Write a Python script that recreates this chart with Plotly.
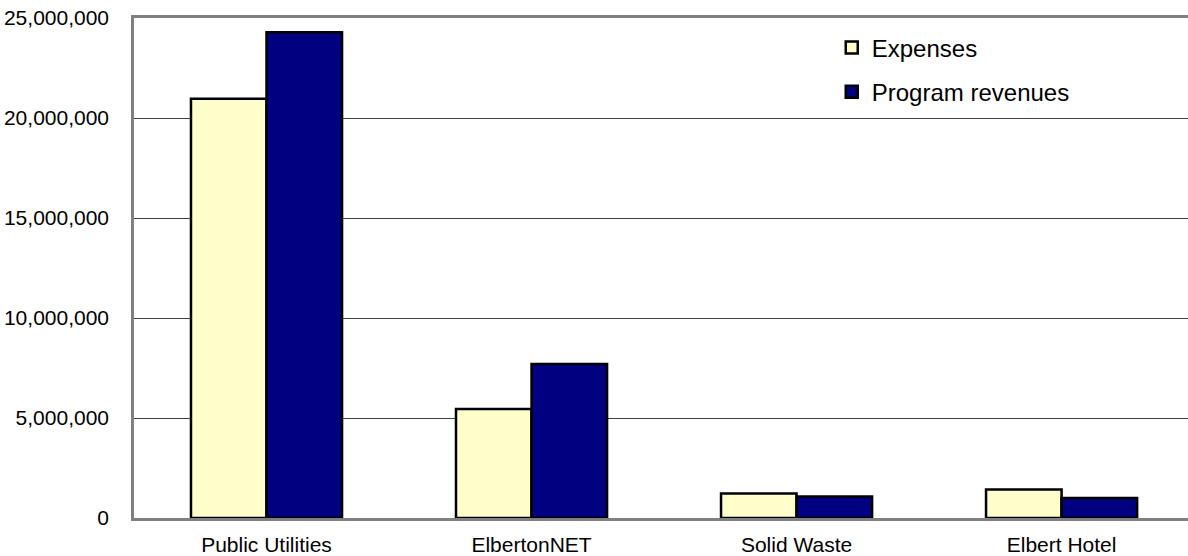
import plotly.graph_objects as go

categories = ["Public Utilities", "ElbertonNET", "Solid Waste", "Elbert Hotel"]
expenses = [20960000, 5450000, 1230000, 1430000]
program_revenues = [24290000, 7700000, 1070000, 1000000]
y_ticks = [0, 5000000, 10000000, 15000000, 20000000, 25000000]

FONT = "Arial, Liberation Sans, sans-serif"

fig = go.Figure()
fig.add_trace(go.Bar(
    x=categories, y=expenses, name="Expenses", legendgroup="a",
    marker=dict(color="#FFFFCC", line=dict(color="#000000", width=2.5)),
))
fig.add_trace(go.Bar(
    x=categories, y=program_revenues, name="Program revenues", legendgroup="b",
    marker=dict(color="#000080", line=dict(color="#000000", width=2.5)),
))

fig.update_layout(
    width=1188, height=556,
    margin=dict(l=134, r=0, t=18, b=36),
    paper_bgcolor="white", plot_bgcolor="white",
    barmode="group", bargap=0.43, bargroupgap=0,
    font=dict(family=FONT, size=21, color="#000000"),
    showlegend=True,
    legend=dict(
        x=0.662, xanchor="left", y=0.985, yanchor="top",
        font=dict(family=FONT, size=24, color="#000000"),
        bgcolor="rgba(0,0,0,0)", tracegroupgap=10,
        traceorder="grouped",
    ),
)
fig.update_xaxes(
    range=[-0.5, 3.477], showline=True, linecolor="#808080", linewidth=2.5,
    mirror=True, showgrid=False, ticks="", ticklabelstandoff=6,
    tickfont=dict(family=FONT, size=21, color="#000000"),
)
fig.update_yaxes(
    range=[0, 25000000], tickvals=y_ticks, tickformat=",",
    showline=True, linecolor="#808080", linewidth=2.5,
    showgrid=True, gridcolor="#404040", gridwidth=1,
    ticks="", ticklabelstandoff=18, zeroline=False,
    tickfont=dict(family=FONT, size=21, color="#000000"),
)

fig.write_html("out.html")
